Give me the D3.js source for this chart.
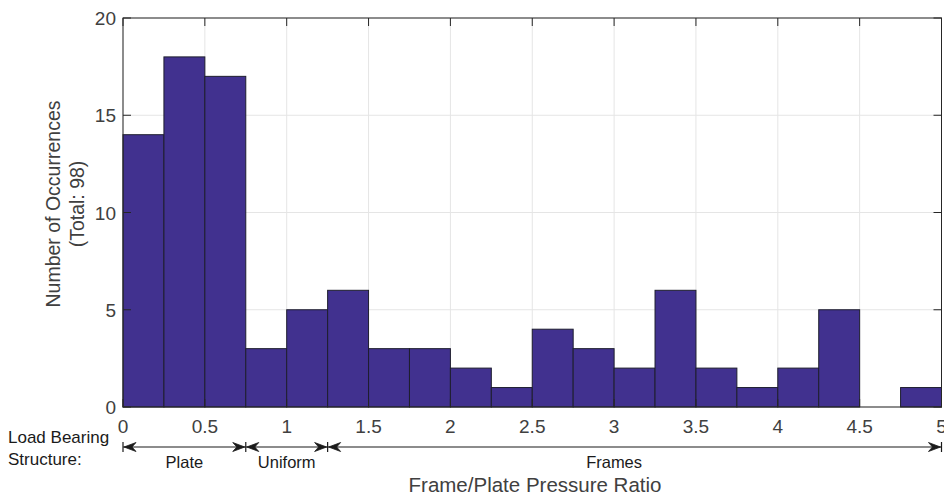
<!DOCTYPE html>
<html><head><meta charset="utf-8">
<script src="https://cdn.jsdelivr.net/npm/d3@7"></script>
<style>body{margin:0;background:#fff}svg{display:block}</style>
</head><body>
<svg id="c" width="944" height="499"></svg>
<script>
const binEdges = [0,0.25,0.5,0.75,1,1.25,1.5,1.75,2,2.25,2.5,2.75,3,3.25,3.5,3.75,4,4.25,4.5,4.75,5];
const counts = [14,18,17,3,5,6,3,3,2,1,4,3,2,6,2,1,2,5,0,1];
const xTicks = [0,0.5,1,1.5,2,2.5,3,3.5,4,4.5,5];
const yTicks = [0,5,10,15,20];
const regions = [{name:"Plate",from:0,to:0.75,labelAt:0.375},{name:"Uniform",from:0.75,to:1.25,labelAt:1.0},{name:"Frames",from:1.25,to:5,labelAt:3.0}];

const svg = d3.select("#c");
const L=123, R=941.5, T=18, B=407;
const x = d3.scaleLinear().domain([0,5]).range([L,R]);
const y = d3.scaleLinear().domain([0,20]).range([B,T]);
const axisCol="#262626", font="Liberation Sans, Arial, sans-serif";

// grid
const g = svg.append("g");
g.selectAll(".vg").data(xTicks).enter().append("line")
 .attr("x1",d=>x(d)).attr("x2",d=>x(d)).attr("y1",T).attr("y2",B)
 .attr("stroke","#e5e5e5").attr("stroke-width",1);
g.selectAll(".hg").data(yTicks).enter().append("line")
 .attr("y1",d=>y(d)).attr("y2",d=>y(d)).attr("x1",L).attr("x2",R)
 .attr("stroke","#e5e5e5").attr("stroke-width",1);

// bars
svg.append("g").selectAll("rect").data(counts).enter().append("rect")
 .attr("x",(d,i)=>x(binEdges[i]))
 .attr("width",(d,i)=>x(binEdges[i+1])-x(binEdges[i]))
 .attr("y",d=>y(d)).attr("height",d=>y(0)-y(d))
 .attr("fill","#41318f").attr("stroke","#1e1e2e").attr("stroke-width",1);

// axes
const ax = svg.append("g").attr("fill","none").attr("stroke",axisCol).attr("stroke-width",1);
ax.append("rect").attr("x",L).attr("y",T).attr("width",R-L).attr("height",B-T);
const tl=8;
xTicks.forEach(t=>{
  ax.append("line").attr("x1",x(t)).attr("x2",x(t)).attr("y1",B).attr("y2",B-tl);
  ax.append("line").attr("x1",x(t)).attr("x2",x(t)).attr("y1",T).attr("y2",T+tl);
});
yTicks.forEach(t=>{
  ax.append("line").attr("y1",y(t)).attr("y2",y(t)).attr("x1",L).attr("x2",L+tl);
  ax.append("line").attr("y1",y(t)).attr("y2",y(t)).attr("x1",R).attr("x2",R-tl);
});

// tick labels
svg.append("g").selectAll("text").data(xTicks).enter().append("text")
 .attr("x",d=>x(d)).attr("y",433).attr("text-anchor","middle")
 .attr("font-family",font).attr("font-size",19).attr("fill","#404040")
 .text(d=>d3.format("~g")(d));
svg.append("g").selectAll("text").data(yTicks).enter().append("text")
 .attr("x",L-7).attr("y",d=>y(d)+7).attr("text-anchor","end")
 .attr("font-family",font).attr("font-size",19).attr("fill","#404040")
 .text(d=>d);

// y label
const yl = svg.append("text").attr("transform",`translate(60,204) rotate(-90)`)
 .attr("text-anchor","middle").attr("font-family",font).attr("font-size",19.5).attr("fill","#404040");
yl.append("tspan").attr("x",0).attr("dy",0).text("Number of Occurrences");
yl.append("tspan").attr("x",0).attr("dy",24).text("(Total: 98)");

// x label
svg.append("text").attr("x",535).attr("y",492).attr("text-anchor","middle")
 .attr("font-family",font).attr("font-size",20.5).attr("fill","#404040").text("Frame/Plate Pressure Ratio");

// load bearing structure
svg.append("text").attr("x",8).attr("y",443).attr("font-family",font).attr("font-size",17).attr("fill","#1a1a1a").text("Load Bearing");
svg.append("text").attr("x",8).attr("y",465).attr("font-family",font).attr("font-size",17).attr("fill","#1a1a1a").text("Structure:");

const ay=447;
const arr = svg.append("g");
function head(px,dir){ // dir -1 points left, +1 points right, tip at px
  const len=12, h=4.5, back=4;
  arr.append("path").attr("d",`M${px},${ay} L${px-dir*len},${ay-h} L${px-dir*(len-back)},${ay} L${px-dir*len},${ay+h} Z`)
   .attr("fill","#1a1a1a").attr("stroke","#1a1a1a").attr("stroke-width",0.8);
}
regions.forEach(r=>{
  const a=x(r.from), b=x(r.to);
  arr.append("line").attr("x1",a).attr("x2",b).attr("y1",ay).attr("y2",ay).attr("stroke","#1a1a1a").attr("stroke-width",1.2);
  head(a+1,-1); head(b-1,1);
  arr.append("text").attr("x",x(r.labelAt)).attr("y",468).attr("text-anchor","middle")
   .attr("font-family",font).attr("font-size",16.5).attr("fill","#1a1a1a").text(r.name);
});
const bounds=[...new Set(regions.flatMap(r=>[r.from,r.to]))];
bounds.forEach(v=>{
  arr.append("line").attr("x1",x(v)).attr("x2",x(v)).attr("y1",ay-5).attr("y2",ay+5).attr("stroke","#1a1a1a").attr("stroke-width",1.2);
});
</script>
</body></html>
